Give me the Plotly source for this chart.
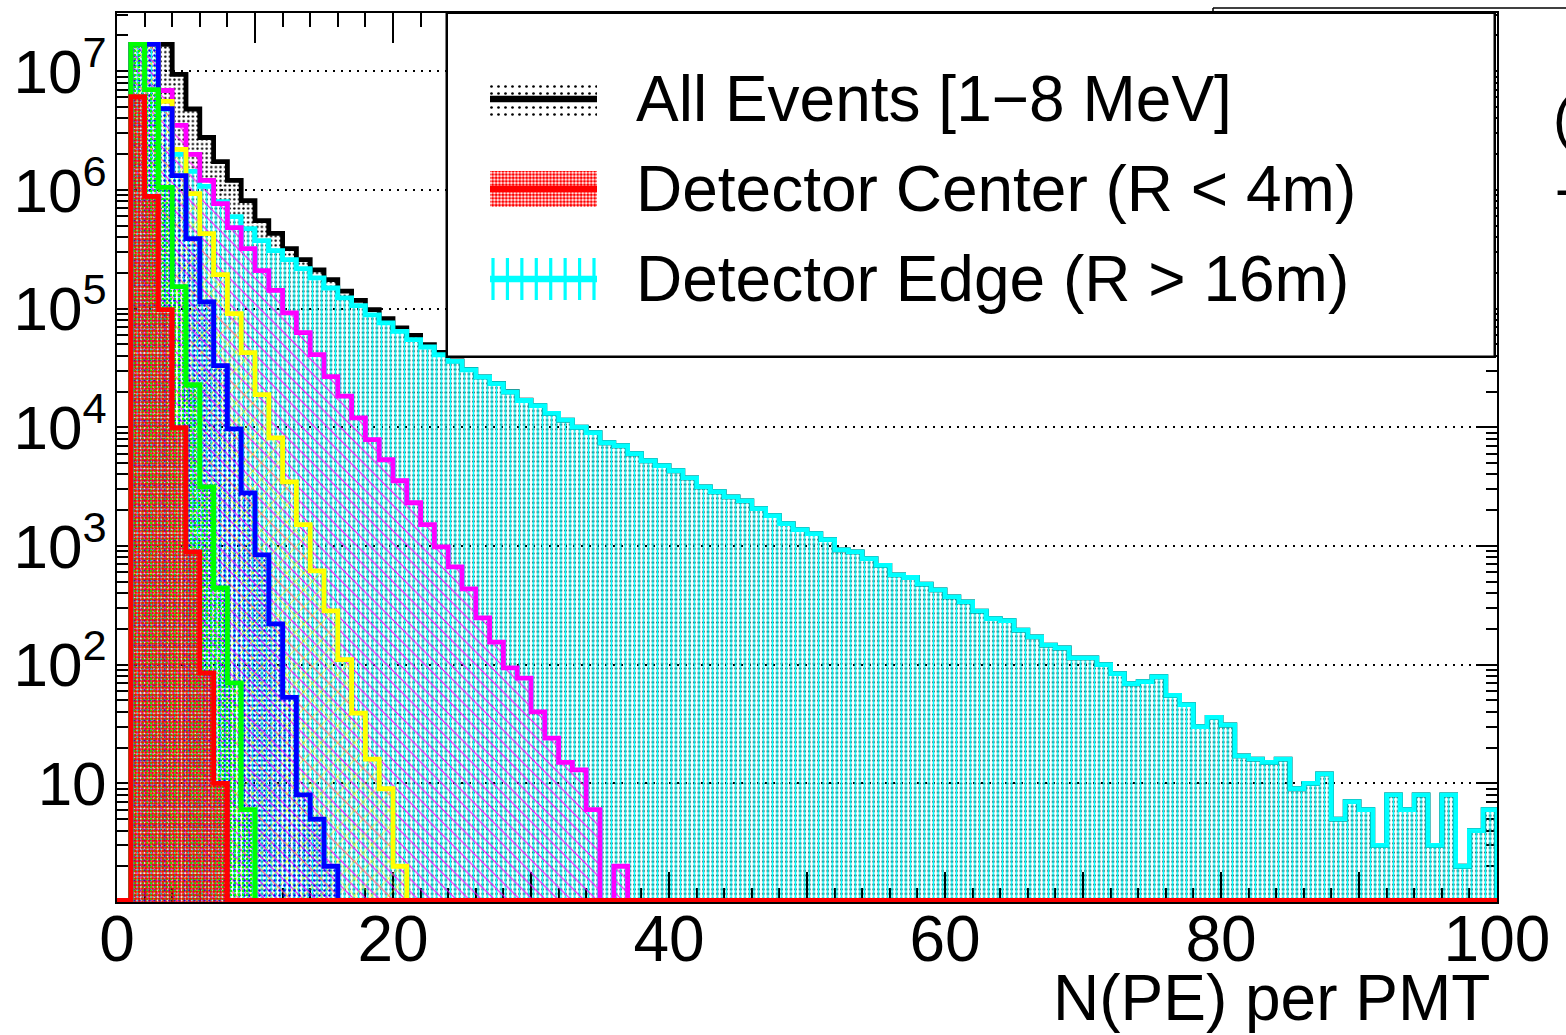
import numpy as np
import plotly.graph_objects as go

# ---------------------------------------------------------------------------
# Histogram contents, unit-width bins [n, n+1) for n = 0, 1, 2, ...
# (trailing empty bins are omitted and padded below)
# ---------------------------------------------------------------------------
N_BINS = 100

all_events = [
    0, 1.68e7, 1.68e7, 1.68e7, 9.4e6, 4.8e6, 2.76e6, 1.73e6, 1.2e6, 8.1e5,
    5.5e5, 4.3e5, 3.2e5, 2.58e5, 2.12e5, 1.75e5, 1.40e5, 1.17e5, 9.8e4, 8.2e4,
    6.86e4, 5.94e4, 4.96e4, 4.28e4, 3.62e4, 3.07e4, 2.66e4, 2.34e4, 1.99e4, 1.69e4,
    1.52e4, 1.31e4, 1.15e4, 1.0e4, 8990, 7400, 6980, 5980, 5220, 4740,
    4300, 3750, 3150, 2860, 2590, 2400, 2060, 1800, 1540, 1370,
    1270, 1130, 927, 892, 782, 686, 571, 542, 476, 427,
    372, 338, 282, 244, 235, 195, 171, 146, 138, 114,
    114, 100, 84, 69, 72, 79, 55, 46, 30, 36,
    31, 17, 16, 15, 16, 9, 10, 12, 5, 7,
    6, 3, 8, 6, 8, 3, 8, 2, 4, 6,
]

edge_r16 = [
    0, 1.68e7, 1.68e7, 4.8e6, 1.99e6, 1.43e6, 1.07e6, 7.97e5, 5.96e5, 4.72e5,
    3.74e5, 3.08e5, 2.58e5, 2.17e5, 1.81e5, 1.49e5, 1.23e5, 1.06e5, 8.83e4, 7.56e4,
    6.43e4, 5.47e4, 4.74e4, 4.08e4, 3.59e4, 3.05e4, 2.65e4, 2.33e4, 1.98e4, 1.68e4,
    1.52e4, 1.31e4, 1.15e4, 1.0e4, 8990, 7400, 6980, 5980, 5220, 4740,
    4300, 3750, 3150, 2860, 2590, 2400, 2060, 1800, 1540, 1370,
    1270, 1130, 927, 892, 782, 686, 571, 542, 476, 427,
    372, 338, 282, 244, 235, 195, 171, 146, 138, 114,
    114, 100, 84, 69, 72, 79, 55, 46, 30, 36,
    31, 17, 16, 15, 16, 9, 10, 12, 5, 7,
    6, 3, 8, 6, 8, 3, 8, 2, 4, 6,
]

shell_magenta = [
    0, 1.68e7, 1.68e7, 6.87e6, 3.49e6, 1.99e6, 1.20e6, 7.66e5, 4.81e5, 3.20e5,
    2.09e5, 1.42e5, 9.2e4, 6.26e4, 4.09e4, 2.67e4, 1.83e4, 1.20e4, 7850, 5320,
    3540, 2310, 1510, 982, 666, 435, 248, 155, 94, 77,
    40, 24, 15, 13, 6, 0, 2,
]

shell_yellow = [
    0, 1.68e7, 1.68e7, 5.56e6, 2.19e6, 9.3e5, 4.28e5, 1.93e5, 9.06e4, 4.25e4,
    1.88e4, 8150, 3470, 1510, 617, 284, 110, 39, 16, 9,
    2,
]

shell_blue = [
    0, 1.68e7, 1.68e7, 4.84e6, 1.32e6, 3.88e5, 1.14e5, 3.3e4, 9700, 2800,
    841, 220, 53, 8, 5, 2,
]

shell_green = [
    0, 1.68e7, 7.0e6, 1.05e6, 1.53e5, 2.28e4, 3150, 443, 70, 6,
]

center_r4 = [
    0, 6.1e6, 8.8e5, 9.8e4, 9.9e3, 891, 85, 10,
]

legend_labels = [
    "All Events [1\u22128 MeV]",
    "Detector Center (R < 4m)",
    "Detector Edge (R > 16m)",
]

x_tick_vals = list(range(0, 101, 10))
x_tick_text = ["0", "", "20", "", "40", "", "60", "", "80", "", "100"]
y_tick_vals = [1e1, 1e2, 1e3, 1e4, 1e5, 1e6, 1e7]
y_tick_text = ["10", "10<sup>2</sup>", "10<sup>3</sup>", "10<sup>4</sup>",
               "10<sup>5</sup>", "10<sup>6</sup>", "10<sup>7</sup>"]
x_title = "N(PE) per PMT"

# ---------------------------------------------------------------------------
# Styles (back to front drawing order)
# ---------------------------------------------------------------------------
FONT = "Liberation Sans, Arial, Helvetica, sans-serif"
LOG_FLOOR = 1.03          # empty bins ride on the bottom edge of the frame
LINE_W = 4.8

styles = [
    (all_events,    dict(color="#000000", shape=".",  size=4.6, solidity=0.2)),
    (edge_r16,      dict(color="#00ffff", shape="|",  size=4.6, solidity=0.32)),
    (shell_magenta, dict(color="#ff00ff", shape="\\", size=9,   solidity=0.12)),
    (shell_yellow,  dict(color="#ffff00", shape="x",  size=12,  solidity=0.12)),
    (shell_blue,    dict(color="#0000ff", shape=".",  size=5,   solidity=0.18)),
    (shell_green,   dict(color="#00ff00", shape=".",  size=4,   solidity=0.3)),
    (center_r4,     dict(color="#ff0000", shape=".",  size=3.4, solidity=0.62)),
]


def pad(vals):
    return list(vals) + [0] * (N_BINS - len(vals))


fig = go.Figure()
centers = np.arange(N_BINS) + 0.5
edges = np.arange(N_BINS + 1)

# pattern fills
for vals, st in styles:
    v = np.array(pad(vals), dtype=float)
    fig.add_trace(go.Bar(
        x=centers, y=[val if val > 0 else None for val in v], width=1.0,
        marker=dict(color="rgba(0,0,0,0)", line=dict(width=0),
                    pattern=dict(shape=st["shape"], fgcolor=st["color"],
                                 bgcolor="rgba(0,0,0,0)", size=st["size"],
                                 solidity=st["solidity"], fillmode="replace")),
        hoverinfo="skip", showlegend=False))

# step outlines
for vals, st in styles:
    v = np.array(pad(vals), dtype=float)
    yl = np.where(v > 0, v, LOG_FLOOR)
    xs = list(edges) + [edges[-1]]
    ys = list(yl) + [yl[-1], LOG_FLOOR]
    fig.add_trace(go.Scatter(
        x=xs, y=ys, mode="lines", line=dict(color=st["color"], width=LINE_W, shape="hv"),
        hoverinfo="skip", showlegend=False))

# ---------------------------------------------------------------------------
# Legend box drawn on a pixel-unit overlay frame
# ---------------------------------------------------------------------------
L_LEFT, L_RIGHT, L_TOP, L_BOTTOM = 447, 1495, 13, 357
SYM_X0, SYM_X1 = 490, 597
ROW_Y = [99, 189, 279]
SYM_H = 36

fig.add_trace(go.Bar(
    x=[(L_LEFT + L_RIGHT) / 2], y=[L_BOTTOM - L_TOP], base=[L_TOP],
    width=[L_RIGHT - L_LEFT], xaxis="x2", yaxis="y2",
    marker=dict(color="white", line=dict(color="black", width=2.5)),
    hoverinfo="skip", showlegend=False))

legend_fills = [
    dict(color="#000000", shape=".", size=7, solidity=0.12),
    dict(color="#ff0000", shape=".", size=3.4, solidity=0.62),
]
for row, st in zip(ROW_Y[:2], legend_fills):
    fig.add_trace(go.Bar(
        x=[(SYM_X0 + SYM_X1) / 2], y=[SYM_H], base=[row - SYM_H / 2],
        width=[SYM_X1 - SYM_X0], xaxis="x2", yaxis="y2",
        marker=dict(color="rgba(0,0,0,0)", line=dict(width=0),
                    pattern=dict(shape=st["shape"], fgcolor=st["color"],
                                 bgcolor="rgba(0,0,0,0)", size=st["size"],
                                 solidity=st["solidity"], fillmode="replace")),
        hoverinfo="skip", showlegend=False))

# vertical hatch of the edge symbol
hx, hy = [], []
for xv in np.linspace(SYM_X0 + 3, SYM_X1 - 3, 8):
    hx += [xv, xv, None]
    hy += [ROW_Y[2] - 21, ROW_Y[2] + 21, None]
fig.add_trace(go.Scatter(x=hx, y=hy, mode="lines", xaxis="x2", yaxis="y2",
                         line=dict(color="#00ffff", width=3.2),
                         hoverinfo="skip", showlegend=False))

for row, col in zip(ROW_Y, ["#000000", "#ff0000", "#00ffff"]):
    fig.add_trace(go.Scatter(x=[SYM_X0, SYM_X1], y=[row, row], mode="lines",
                             xaxis="x2", yaxis="y2", line=dict(color=col, width=6.5),
                             hoverinfo="skip", showlegend=False))

annotations = []
for row, txt in zip(ROW_Y, legend_labels):
    annotations.append(dict(x=634, y=row, xref="x2", yref="y2", text=txt,
                            showarrow=False, xanchor="left", yanchor="middle",
                            font=dict(family=FONT, size=64, color="black")))


def px_to_paper(px, py):
    return (px - 117) / 1380.0, (902 - py) / 889.0


# axis title
tx, ty = px_to_paper(1492, 998)
annotations.append(dict(x=tx, y=ty, xref="paper", yref="paper", text=x_title,
                        showarrow=False, xanchor="right", yanchor="middle",
                        font=dict(family=FONT, size=64, color="black")))

# clipped neighbouring pad on the right
for txt, (px, py) in [("(", (1551, 117)), ("-", (1553, 188))]:
    ax, ay = px_to_paper(px, py)
    annotations.append(dict(x=ax, y=ay, xref="paper", yref="paper", text=txt,
                            showarrow=False, xanchor="left", yanchor="middle",
                            font=dict(family=FONT, size=58, color="black")))

shapes = []
sx0, sy0 = px_to_paper(1213, 8)
sx1, sy1 = px_to_paper(1600, 13)
shapes.append(dict(type="line", xref="paper", yref="paper", x0=sx0, x1=sx1, y0=sy0, y1=sy0,
                   line=dict(color="black", width=1.5)))
shapes.append(dict(type="line", xref="paper", yref="paper", x0=sx0, x1=sx0, y0=sy0, y1=sy1,
                   line=dict(color="black", width=1.5)))

minor_y = [m * 10 ** k for k in range(0, 8) for m in range(2, 10) if m * 10 ** k < 3.1e7]

fig.update_layout(
    width=1566, height=1035,
    margin=dict(l=117, r=69, t=13, b=133),
    plot_bgcolor="white", paper_bgcolor="white",
    barmode="overlay", bargap=0, showlegend=False,
    font=dict(family=FONT, size=62, color="black"),
    annotations=annotations, shapes=shapes,
    xaxis=dict(range=[0, 100], tickmode="array", tickvals=x_tick_vals, ticktext=x_tick_text,
               ticks="inside", ticklen=30, tickwidth=1.5, tickcolor="black",
               ticklabelstandoff=-20,
               minor=dict(dtick=2, tick0=0, ticks="inside", ticklen=14, tickwidth=1.5,
                          tickcolor="black", showgrid=False),
               showline=True, linecolor="black", linewidth=2, mirror="ticks",
               showgrid=False, zeroline=False, layer="below traces",
               tickfont=dict(family=FONT, size=64, color="black")),
    yaxis=dict(type="log", range=[0, 7.49], tickmode="array", tickvals=y_tick_vals,
               ticktext=y_tick_text, ticks="inside", ticklen=21, tickwidth=1.5,
               tickcolor="black", ticklabelstandoff=-4,
               minor=dict(tickmode="array", tickvals=minor_y, ticks="inside", ticklen=11,
                          tickwidth=1.5, tickcolor="black", showgrid=False),
               showline=True, linecolor="black", linewidth=2, mirror="ticks",
               showgrid=True, gridcolor="black", gridwidth=1.5, griddash="2px,6px",
               zeroline=False, layer="below traces",
               tickfont=dict(family=FONT, size=62, color="black")),
    xaxis2=dict(overlaying="x", range=[117, 1497], visible=False, fixedrange=True),
    yaxis2=dict(overlaying="y", range=[902, 13], visible=False, fixedrange=True),
)

fig.write_html("out.html")
